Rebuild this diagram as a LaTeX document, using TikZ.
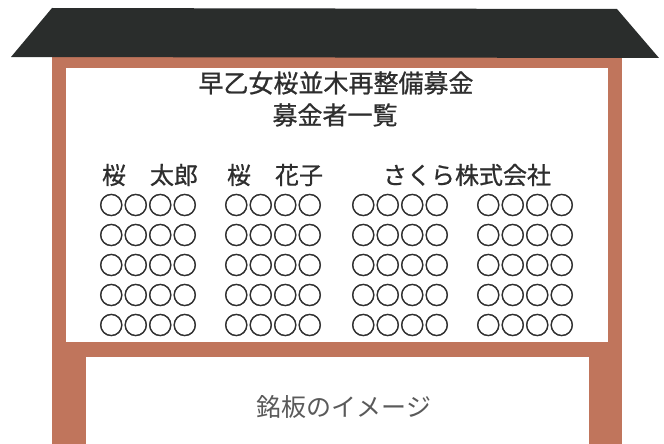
\documentclass[tikz,border=0pt]{standalone}
\usepackage{fontspec}
\setmainfont{Noto Sans CJK JP}
\newfontfamily\boardfont[FakeBold=0.8]{Noto Sans CJK JP}
\newfontfamily\circfont[FakeBold=2]{Noto Sans CJK JP}
\usepackage{xcolor}
\usepackage{tikz}

\definecolor{roofblack}{HTML}{2A2D2C}
\definecolor{woodbrown}{HTML}{C0755C}
\definecolor{inkgray}{HTML}{2E2E2E}
\definecolor{lightink}{HTML}{5A5A5A}

\tikzset{
	boardtext/.style={inner sep=0pt, text=inkgray, font=\boardfont\fontsize{24}{28}\selectfont},
	titletext/.style={boardtext, font=\boardfont\fontsize{25}{30}\selectfont},
	circtext/.style={inner sep=0pt, text=inkgray, font=\circfont\fontsize{24.5}{28}\selectfont},
	platetext/.style={inner sep=0pt, text=lightink, font=\fontsize{25}{30}\selectfont}
}

\begin{document}
\begin{tikzpicture}[x=1pt, y=-1pt]
			\useasboundingbox (0,0) rectangle (664,444);
			\coordinate (A) at (52,8);
			\coordinate (B) at (617,9);
			\coordinate (C) at (659,58);
			\coordinate (D) at (11,57);

			\fill[woodbrown] (52,55) rectangle (622,444);
			\fill[white] (66,68) rectangle (608,342);
			\fill[white] (86,357) rectangle (589,444);
			\fill[roofblack] (A) -- (B) -- (C) -- (D) -- cycle;

			\node[titletext] (title) at (336,83) {早乙女桜並木再整備募金};
			\node[titletext] (subtitle) at (335,115) {募金者一覧};
			\foreach \x/\name/\txt in {
				150/taro/桜　太郎,
				275/hanako/桜　花子,
				467/sakura/さくら株式会社
			}{
				\node[boardtext] (\name) at (\x,175) {\txt};
			}
			\foreach \x in {148,273,400,525}{
				\foreach \y in {205,235,...,325}{
					\node[circtext] (c-\x-\y) at (\x,\y) {○○○○};
				}
			}
			\node[platetext] (plate) at (344,407) {銘板のイメージ};
		\end{tikzpicture}
\end{document}
